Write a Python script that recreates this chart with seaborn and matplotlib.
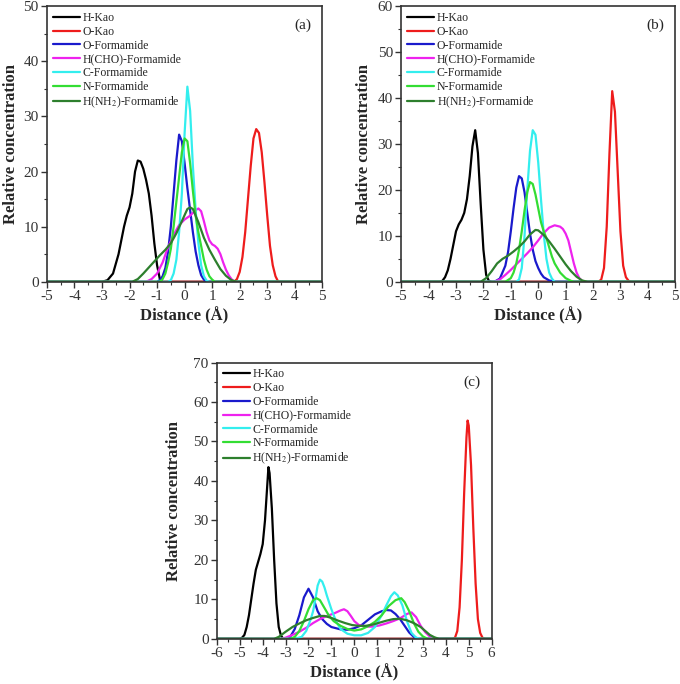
import numpy as np
import pandas as pd
import matplotlib
matplotlib.use("Agg")
import matplotlib.pyplot as plt
import seaborn as sns

# --- STYLE ---
sns.set_style("ticks")
plt.rcParams['font.family'] = ['Liberation Serif', 'DejaVu Serif']
plt.rcParams['mathtext.fontset'] = 'stix'
plt.rcParams['axes.unicode_minus'] = False

SERIES = ["H-Kao", "O-Kao", "O-Formamide", "H(CHO)-Formamide",
          "C-Formamide", "N-Formamide", "H(NH$_2$)-Formamide"]
COLORS = ["#000000", "#ee1c1c", "#1a1acc", "#ee22ee", "#33eeee", "#33dd33", "#2d7f2d"]

# --- PANEL (a) ---
a_hkao_x = [-5, -3.0, -2.8, -2.6, -2.4, -2.2, -2.1, -2.0, -1.9, -1.8, -1.7, -1.6, -1.5, -1.4, -1.3, -1.2, -1.1, -1.0, -0.9, -0.8, 5]
a_hkao_y = [0, 0, 0.3, 1.5, 5, 10, 12, 13.5, 16, 20, 22, 21.8, 20.5, 18.5, 16, 12, 7, 3, 0.5, 0, 0]
a_okao_x = [-5, 1.8, 1.9, 2.0, 2.1, 2.2, 2.3, 2.4, 2.5, 2.6, 2.7, 2.8, 2.9, 3.0, 3.1, 3.2, 3.3, 3.4, 5]
a_okao_y = [0, 0, 0.5, 1.8, 4.5, 9, 15, 21, 26, 27.7, 27, 23.5, 18, 12, 6.5, 3, 1, 0, 0]
a_ofor_x = [-5, -1.0, -0.9, -0.8, -0.7, -0.6, -0.5, -0.4, -0.3, -0.2, -0.1, 0.0, 0.1, 0.2, 0.3, 0.4, 0.5, 0.6, 0.7, 0.8, 5]
a_ofor_y = [0, 0, 0.3, 1, 2.5, 5.5, 10, 16, 22, 26.7, 25.5, 21.5, 17, 13, 9, 5.5, 3, 1.2, 0.4, 0, 0]
a_hcho_x = [-5, -1.4, -1.2, -1.0, -0.8, -0.6, -0.4, -0.2, 0.0, 0.2, 0.4, 0.5, 0.6, 0.7, 0.8, 0.9, 1.0, 1.1, 1.2, 1.3, 1.4, 1.5, 1.6, 1.7, 1.8, 5]
a_hcho_y = [0, 0, 0.5, 1.5, 3.5, 6.3, 8.5, 10.3, 11.3, 12, 13, 13.3, 12.8, 11, 9, 7.5, 6.8, 6.5, 6, 5, 3.5, 2.2, 1.2, 0.5, 0, 0]
a_cfor_x = [-5, -0.6, -0.5, -0.4, -0.3, -0.2, -0.1, 0.0, 0.1, 0.2, 0.3, 0.4, 0.5, 0.6, 0.7, 0.8, 0.9, 5]
a_cfor_y = [0, 0, 0.3, 1.5, 4, 9, 16, 27, 35.4, 31, 21, 13, 7, 3, 1, 0.2, 0, 0]
a_nfor_x = [-5, -0.9, -0.8, -0.7, -0.6, -0.5, -0.4, -0.3, -0.2, -0.1, 0.0, 0.1, 0.2, 0.3, 0.4, 0.5, 0.6, 0.7, 0.8, 0.9, 1.0, 1.1, 5]
a_nfor_y = [0, 0, 0.5, 1.5, 3.5, 6, 10, 14.5, 19, 23.5, 26, 25.5, 21.5, 16.5, 12, 9, 6.5, 4, 2.2, 1, 0.4, 0, 0]
a_hnh2_x = [-5, -1.9, -1.7, -1.5, -1.3, -1.1, -0.9, -0.7, -0.5, -0.3, -0.1, 0.1, 0.2, 0.3, 0.4, 0.5, 0.7, 0.9, 1.1, 1.3, 1.5, 1.7, 1.9, 5]
a_hnh2_y = [0, 0, 0.5, 1.5, 2.6, 3.7, 4.8, 5.8, 7, 8.8, 11, 13.2, 13.5, 13.2, 12, 10.8, 8, 5.8, 4, 2.3, 1.1, 0.3, 0, 0]

# --- PANEL (b) ---
b_hkao_x = [-5, -3.6, -3.5, -3.4, -3.3, -3.2, -3.1, -3.0, -2.9, -2.8, -2.7, -2.6, -2.5, -2.4, -2.3, -2.2, -2.1, -2.0, -1.9, -1.8, -1.7, 5]
b_hkao_y = [0, 0, 0.2, 1, 2.5, 5, 8, 11, 12.5, 13.5, 15, 18, 23, 29.5, 33, 28, 17, 7, 1.5, 0.2, 0, 0]
b_okao_x = [-5, 2.2, 2.3, 2.4, 2.5, 2.6, 2.7, 2.8, 2.9, 3.0, 3.1, 3.2, 3.3, 3.4, 5]
b_okao_y = [0, 0, 0.5, 3, 12, 28, 41.5, 37, 24, 11, 3.5, 1, 0.2, 0, 0]
b_ofor_x = [-5, -1.6, -1.4, -1.2, -1.1, -1.0, -0.9, -0.8, -0.7, -0.6, -0.5, -0.4, -0.3, -0.2, -0.1, 0.0, 0.1, 0.2, 0.4, 0.6, 5]
b_ofor_y = [0, 0, 0.7, 3.5, 6.5, 11, 16, 20.5, 23, 22.5, 19.5, 15, 10.5, 7, 4.5, 3, 1.8, 1, 0.3, 0, 0]
b_hcho_x = [-5, -1.6, -1.4, -1.2, -1.0, -0.8, -0.6, -0.4, -0.2, 0.0, 0.2, 0.4, 0.6, 0.8, 0.9, 1.0, 1.1, 1.2, 1.3, 1.4, 1.5, 1.6, 1.7, 5]
b_hcho_y = [0, 0, 0.5, 1.5, 2.6, 3.8, 5, 6.2, 7.5, 9, 10.6, 11.8, 12.3, 12, 11.5, 10.5, 9, 6.5, 4, 2, 0.8, 0.2, 0, 0]
b_cfor_x = [-5, -0.8, -0.7, -0.6, -0.5, -0.4, -0.3, -0.2, -0.1, 0.0, 0.1, 0.2, 0.3, 0.4, 0.5, 0.6, 5]
b_cfor_y = [0, 0, 0.5, 3, 10, 20, 28.5, 33, 32, 26, 18, 10.5, 5, 2, 0.7, 0, 0]
b_nfor_x = [-5, -1.2, -1.0, -0.9, -0.8, -0.7, -0.6, -0.5, -0.4, -0.3, -0.2, -0.1, 0.0, 0.1, 0.2, 0.3, 0.4, 0.5, 0.6, 0.8, 1.0, 1.2, 1.3, 5]
b_nfor_y = [0, 0, 0.8, 2, 4, 7, 11, 15.5, 19.5, 21.7, 21.3, 19, 16, 13, 11, 9.5, 7.5, 5.5, 4, 2, 0.8, 0.2, 0, 0]
b_hnh2_x = [-5, -2.1, -1.9, -1.7, -1.5, -1.3, -1.1, -0.9, -0.7, -0.5, -0.3, -0.1, 0.0, 0.2, 0.4, 0.6, 0.8, 1.0, 1.2, 1.4, 1.6, 1.8, 5]
b_hnh2_y = [0, 0, 0.8, 2.3, 4, 5, 5.7, 6.6, 7.6, 8.8, 10.3, 11.3, 11.2, 10.2, 8.8, 7.2, 5.5, 3.8, 2.3, 1.1, 0.3, 0, 0]

# --- PANEL (c) ---
c_hkao_x = [-6, -5.0, -4.9, -4.8, -4.7, -4.6, -4.5, -4.4, -4.3, -4.2, -4.1, -4.0, -3.9, -3.8, -3.75, -3.7, -3.6, -3.5, -3.4, -3.3, -3.2, -3.1, 6]
c_hkao_y = [0, 0, 0.3, 1, 3, 6, 10, 14, 17.5, 19.5, 21.5, 24, 30, 39, 43.5, 42, 33, 20, 9, 3, 0.8, 0, 0]
c_okao_x = [-6, 4.3, 4.4, 4.5, 4.6, 4.7, 4.8, 4.9, 4.95, 5.0, 5.1, 5.2, 5.3, 5.4, 5.5, 5.6, 5.7, 6]
c_okao_y = [0, 0, 0.3, 2, 8, 20, 37, 51, 55.3, 54, 44, 28, 14, 5, 1.5, 0.3, 0, 0]
c_ofor_x = [-6, -3.0, -2.8, -2.6, -2.4, -2.2, -2.0, -1.8, -1.6, -1.4, -1.2, -1.0, -0.6, -0.3, 0.0, 0.3, 0.6, 0.9, 1.2, 1.4, 1.6, 1.8, 2.0, 2.2, 2.4, 2.6, 2.8, 6]
c_ofor_y = [0, 0, 0.5, 2.5, 6, 10.5, 12.7, 10.5, 7, 5, 3.8, 3, 2.4, 2.3, 2.7, 3.4, 4.8, 6.2, 7, 7.3, 7.2, 6.3, 5, 3.3, 1.6, 0.5, 0, 0]
c_hcho_x = [-6, -3.2, -3.0, -2.7, -2.4, -2.1, -1.8, -1.5, -1.2, -0.9, -0.6, -0.45, -0.3, -0.15, 0.0, 0.2, 0.5, 0.8, 1.1, 1.4, 1.7, 2.0, 2.3, 2.5, 2.7, 2.9, 3.1, 3.3, 3.5, 6]
c_hcho_y = [0, 0, 0.3, 1, 1.8, 2.8, 4, 5, 5.8, 6.4, 7.2, 7.5, 7, 5.8, 4.5, 3.5, 3.1, 3.1, 3.4, 3.9, 4.5, 5.2, 6.3, 6.7, 5.5, 3.3, 1.7, 0.6, 0, 0]
c_cfor_x = [-6, -2.6, -2.3, -2.1, -1.9, -1.8, -1.7, -1.6, -1.5, -1.4, -1.3, -1.2, -1.0, -0.8, -0.6, -0.3, 0.0, 0.3, 0.6, 0.9, 1.2, 1.4, 1.6, 1.75, 1.9, 2.1, 2.3, 2.5, 2.7, 2.9, 6]
c_cfor_y = [0, 0, 0.5, 2, 5, 7, 10, 13.5, 15, 14.5, 13, 11, 7.5, 4.5, 2.5, 1.3, 0.9, 0.9, 1.5, 3, 6, 8.5, 10.8, 11.8, 11, 8.5, 4.5, 1.5, 0.3, 0, 0]
c_nfor_x = [-6, -2.8, -2.6, -2.4, -2.2, -2.0, -1.8, -1.65, -1.5, -1.3, -1.1, -0.9, -0.6, -0.3, 0.0, 0.3, 0.6, 0.9, 1.2, 1.5, 1.8, 2.05, 2.2, 2.4, 2.6, 2.8, 3.0, 3.2, 6]
c_nfor_y = [0, 0, 0.5, 2, 4.5, 7.5, 9.8, 10.3, 9.8, 7.8, 5.8, 4.5, 3.3, 2.5, 2.1, 2.4, 3.2, 4.3, 6, 8.3, 9.8, 10.3, 9.3, 7, 4, 1.8, 0.6, 0, 0]
c_hnh2_x = [-6, -3.5, -3.3, -3.0, -2.7, -2.4, -2.1, -1.8, -1.5, -1.3, -1.0, -0.7, -0.4, -0.1, 0.2, 0.5, 0.8, 1.1, 1.4, 1.7, 2.0, 2.3, 2.6, 2.9, 3.1, 3.3, 3.5, 3.7, 6]
c_hnh2_y = [0, 0, 0.5, 1.8, 3, 3.9, 4.7, 5.3, 5.8, 5.8, 5.3, 4.6, 4, 3.5, 3.3, 3.3, 3.6, 4.1, 4.6, 5, 5.1, 4.7, 4, 3, 2, 1, 0.4, 0, 0]


def build_frame(pairs):
    rows = []
    for name, (xs, ys) in zip(SERIES, pairs):
        rows.append(pd.DataFrame({"x": xs, "y": ys, "series": name}))
    return pd.concat(rows, ignore_index=True)


panels = [
    dict(tag="(a)", xlim=(-5, 5), ylim=(0, 50), ystep=10, xticks=range(-5, 6),
         pos=[0.069, 0.588, 0.405, 0.403], labelpad=3,
         data=[(a_hkao_x, a_hkao_y), (a_okao_x, a_okao_y), (a_ofor_x, a_ofor_y), (a_hcho_x, a_hcho_y),
               (a_cfor_x, a_cfor_y), (a_nfor_x, a_nfor_y), (a_hnh2_x, a_hnh2_y)]),
    dict(tag="(b)", xlim=(-5, 5), ylim=(0, 60), ystep=10, xticks=range(-5, 6),
         pos=[0.590, 0.588, 0.403, 0.403], labelpad=4,
         data=[(b_hkao_x, b_hkao_y), (b_okao_x, b_okao_y), (b_ofor_x, b_ofor_y), (b_hcho_x, b_hcho_y),
               (b_cfor_x, b_cfor_y), (b_nfor_x, b_nfor_y), (b_hnh2_x, b_hnh2_y)]),
    dict(tag="(c)", xlim=(-6, 6), ylim=(0, 70), ystep=10, xticks=range(-6, 7),
         pos=[0.319, 0.066, 0.404, 0.404], labelpad=8,
         data=[(c_hkao_x, c_hkao_y), (c_okao_x, c_okao_y), (c_ofor_x, c_ofor_y), (c_hcho_x, c_hcho_y),
               (c_cfor_x, c_cfor_y), (c_nfor_x, c_nfor_y), (c_hnh2_x, c_hnh2_y)]),
]

fig = plt.figure(figsize=(6.8, 6.84), dpi=100)

for p in panels:
    ax = fig.add_axes(p["pos"])
    df = build_frame(p["data"])
    sns.lineplot(data=df, x="x", y="y", hue="series", palette=COLORS,
                 estimator=None, sort=False, linewidth=1.6, ax=ax)
    ax.set_xlim(*p["xlim"])
    ax.set_ylim(*p["ylim"])
    ax.set_xticks(list(p["xticks"]))
    ax.set_yticks(np.arange(p["ylim"][0], p["ylim"][1] + 1, p["ystep"]))
    ax.xaxis.set_minor_locator(matplotlib.ticker.MultipleLocator(0.5))
    ax.yaxis.set_minor_locator(matplotlib.ticker.MultipleLocator(5))
    ax.tick_params(which="major", direction="out", length=4, width=1, labelsize=11,
                   colors="#333333", pad=2)
    ax.tick_params(which="minor", direction="out", length=2, width=0.8, colors="#333333")
    for s in ax.spines.values():
        s.set_linewidth(1.2)
        s.set_color("#333333")
    ax.set_xlabel("Distance (Å)", fontsize=12, fontweight="bold", labelpad=3)
    ax.set_ylabel("Relative concentration", fontsize=12, fontweight="bold", labelpad=p["labelpad"])
    ax.text(0.96, 0.93, p["tag"], transform=ax.transAxes, ha="right", va="center", fontsize=11)
    ax.legend(loc="upper left", frameon=False, fontsize=8.5, handlelength=2.3,
              handletextpad=0.2, labelspacing=0.15, borderaxespad=0.1)

fig.savefig("out.png", dpi=100)
